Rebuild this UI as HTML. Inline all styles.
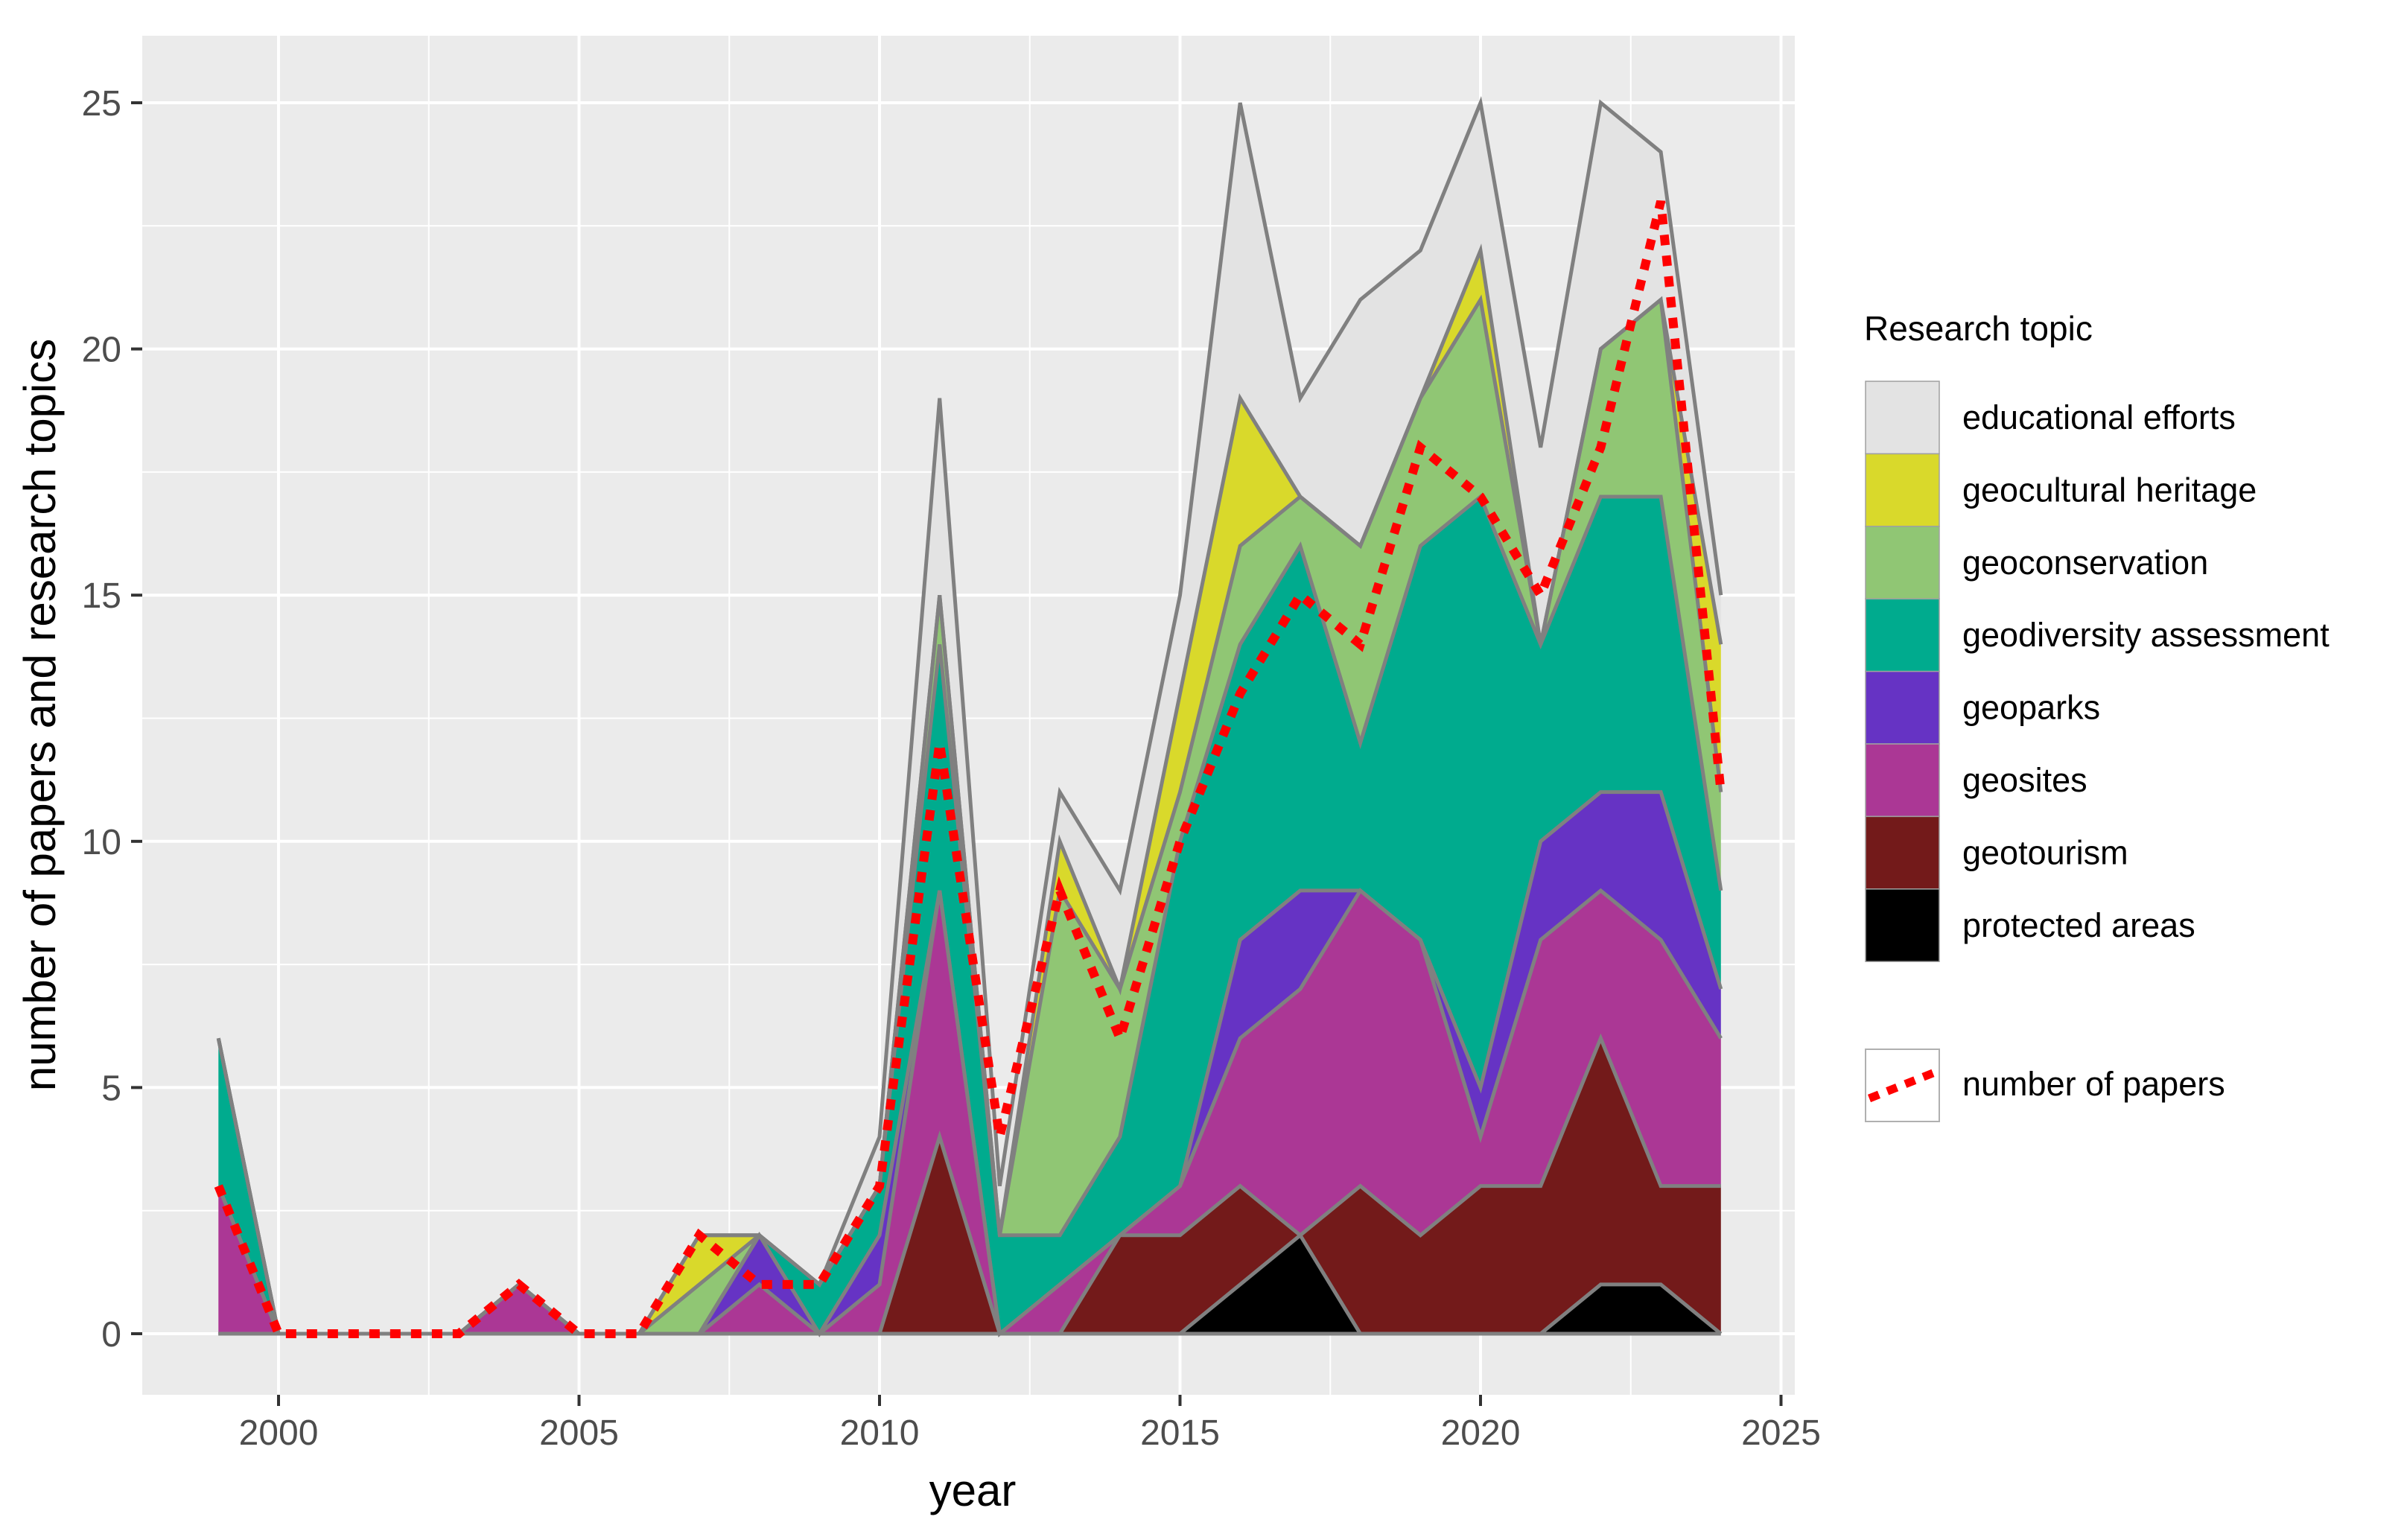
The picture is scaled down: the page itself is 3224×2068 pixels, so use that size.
<!DOCTYPE html>
<html><head><meta charset="utf-8"><style>
html,body{margin:0;padding:0;background:#fff;}
svg{display:block;font-family:"Liberation Sans",Arial,sans-serif;}
</style></head><body>
<svg id="chart" width="3224" height="2068" viewBox="0 0 3224 2068" xmlns="http://www.w3.org/2000/svg">
<rect x="0" y="0" width="3224" height="2068" fill="#fff"/>
<rect x="191" y="48" width="2219" height="1825" fill="#ebebeb"/>
<g id="grid"></g>
<g id="areas"></g>
<g id="papers"></g>
<g id="axes"></g>
<text x="1306" y="2022" font-size="60" text-anchor="middle" fill="#000">year</text>
<text transform="translate(74,960) rotate(-90)" font-size="60" text-anchor="middle" fill="#000">number of papers and research topics</text>
<g id="legend">
<text x="2503" y="457" font-size="46" fill="#000">Research topic</text>
</g>
</svg>
<script>
const years = [1999,2000,2001,2002,2003,2004,2005,2006,2007,2008,2009,2010,2011,2012,2013,2014,2015,2016,2017,2018,2019,2020,2021,2022,2023,2024];
const protectedAreas = [0,0,0,0,0,0,0,0,0,0,0,0,0,0,0,0,0,1,2,0,0,0,0,1,1,0];
const geotourism = [0,0,0,0,0,0,0,0,0,0,0,0,4,0,0,2,2,2,0,3,2,3,3,5,2,3];
const geosites = [3,0,0,0,0,1,0,0,0,1,0,1,5,0,1,0,1,3,5,6,6,1,5,3,5,3];
const geoparks = [0,0,0,0,0,0,0,0,0,1,0,1,0,0,0,0,0,2,2,0,0,1,2,2,3,1];
const geodiversity = [3,0,0,0,0,0,0,0,0,0,1,1,5,2,1,2,7,6,7,3,8,12,4,6,6,2];
const geoconservation = [0,0,0,0,0,0,0,0,1,0,0,0,1,0,7,3,1,2,1,4,3,4,0,3,4,2];
const geocultural = [0,0,0,0,0,0,0,0,1,0,0,0,0,0,1,0,2,3,0,0,0,1,0,0,0,3];
const educational = [0,0,0,0,0,0,0,0,0,0,0,1,4,1,1,2,2,6,2,5,3,3,4,5,3,1];
const papers = [3,0,0,0,0,1,0,0,2,1,1,3,12,4,9,6,10,13,15,14,18,17,15,18,23,11];
const xTicks = [2000,2005,2010,2015,2020,2025];
const yTicks = [0,5,10,15,20,25];
const seriesNames = ["protected areas","geotourism","geosites","geoparks","geodiversity assessment","geoconservation","geocultural heritage","educational efforts"];

const NS="http://www.w3.org/2000/svg";
const PL=191,PR=2410,PT=48,PB=1873;
function xs(yr){return 374+(yr-2000)*80.7;}
function ys(v){return 1791-v*66.12;}
function mk(tag,attrs,parent){const e=document.createElementNS(NS,tag);for(const k in attrs)e.setAttribute(k,attrs[k]);parent.appendChild(e);return e;}

const grid=document.getElementById('grid');
for(let t=2002.5;t<2026;t+=5){const l=mk('line',{x1:xs(t),x2:xs(t),y1:PT,y2:PB,stroke:'#fff','stroke-width':2},grid);

}
for(let v=2.5;v<26;v+=5){const l=mk('line',{x1:PL,x2:PR,y1:ys(v),y2:ys(v),stroke:'#fff','stroke-width':2},grid);

}
xTicks.forEach(t=>{const l=mk('line',{x1:xs(t),x2:xs(t),y1:PT,y2:PB,stroke:'#fff','stroke-width':4},grid);

});
yTicks.forEach(v=>{const l=mk('line',{x1:PL,x2:PR,y1:ys(v),y2:ys(v),stroke:'#fff','stroke-width':4},grid);

});

const series=[protectedAreas,geotourism,geosites,geoparks,geodiversity,geoconservation,geocultural,educational];
const colors=["#000000","#731a1a","#ab3795","#6633c4","#00ab8e","#90c674","#d9d92b","#e3e3e3"];
const areas=document.getElementById('areas');
let base=years.map(()=>0);
const tops=[];
series.forEach((s,i)=>{
  const top=base.map((b,j)=>b+s[j]);
  let d='M'+years.map((yr,j)=>xs(yr)+','+ys(top[j])).join(' L');
  for(let j=years.length-1;j>=0;j--)d+=' L'+xs(years[j])+','+ys(base[j]);
  d+=' Z';
  const p=mk('path',{d:d,fill:colors[i],stroke:'none'},areas);
  
  
  tops.push(top);base=top;
});
const baseLine=mk('polyline',{points:years.map(yr=>xs(yr)+','+ys(0)).join(' '),fill:'none',stroke:'#808080','stroke-width':5},areas);


tops.forEach((top,i)=>{
  const l=mk('polyline',{points:years.map((yr,j)=>xs(yr)+','+ys(top[j])).join(' '),fill:'none',stroke:'#808080','stroke-width':5,'stroke-linejoin':'miter'},areas);
  
  
});

const pg=document.getElementById('papers');
const pl=mk('polyline',{points:years.map((yr,j)=>xs(yr)+','+ys(papers[j])).join(' '),fill:'none',stroke:'#ff0000','stroke-width':12,'stroke-dasharray':'14 14'},pg);



const axes=document.getElementById('axes');
xTicks.forEach(t=>{
  const tk=mk('line',{x1:xs(t),x2:xs(t),y1:PB,y2:PB+15,stroke:'#333','stroke-width':4},axes);
  
  
  const tx=mk('text',{x:xs(t),y:PB+67,'font-size':48,'text-anchor':'middle',fill:'#4d4d4d'},axes);
  tx.textContent=t;
  
  
});
yTicks.forEach(v=>{
  const tk=mk('line',{x1:PL-15,x2:PL,y1:ys(v),y2:ys(v),stroke:'#333','stroke-width':4},axes);
  
  
  const tx=mk('text',{x:PL-28,y:ys(v)+17,'font-size':48,'text-anchor':'end',fill:'#4d4d4d'},axes);
  tx.textContent=v;
  
  
});

const lg=document.getElementById('legend');
const legOrder=[7,6,5,4,3,2,1,0];
legOrder.forEach((si,k)=>{
  const y0=512+k*97.4;
  const r=mk('rect',{x:2505,y:y0,width:99,height:97.4,fill:colors[si],stroke:'#a0a0a0','stroke-width':1.5},lg);
  
  
  const t=mk('text',{x:2635,y:y0+64,'font-size':45,fill:'#000'},lg);
  t.textContent=seriesNames[si];
  
  
});
const pk=mk('rect',{x:2505,y:1409,width:99,height:97,fill:'#fff',stroke:'#b0b0b0','stroke-width':2},lg);


const pkl=mk('line',{x1:2510,y1:1475,x2:2598,y2:1440,stroke:'#ff0000','stroke-width':11,'stroke-dasharray':'14 12'},lg);


const pt=mk('text',{x:2635,y:1471,'font-size':45,fill:'#000'},lg);
pt.textContent='number of papers';


</script>
</body></html>
